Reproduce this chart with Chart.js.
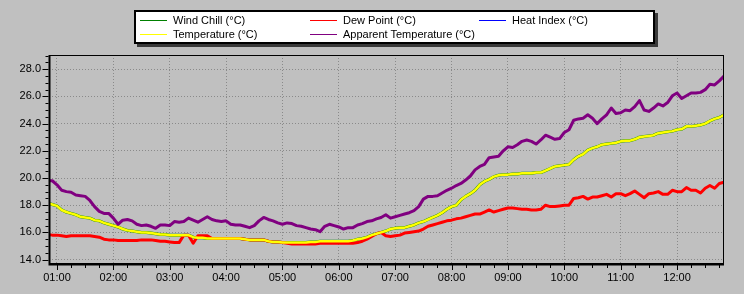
<!DOCTYPE html>
<html>
<head>
<meta charset="utf-8">
<script src="https://cdn.jsdelivr.net/npm/chart.js@4"></script>
<style>
  body { margin: 0; background: #c0c0c0; }
  #wrap { position: relative; width: 744px; height: 294px; }
  #legend {
    position: absolute; left: 134px; top: 10px; width: 517px; height: 30px;
    background: #fff; border: 2px solid #000; box-shadow: 3px 3px 0 #3a3a3a;
    font: 11px "Liberation Sans", Arial, sans-serif; color: #000;
  }
  .item { position: absolute; white-space: nowrap; line-height: 13px; }
  .swatch { position: absolute; height: 1px; width: 27px; }
</style>
</head>
<body>
<div id="wrap">
  <canvas id="myChart" width="744" height="294"></canvas>
  <div id="legend"></div>
</div>
<script>
// sample times (every 5 min)
const times = [
  '00:50','00:55','01:00','01:05','01:10','01:15','01:20','01:25','01:30','01:35','01:40','01:45',
  '01:50','01:55','02:00','02:05','02:10','02:15','02:20','02:25','02:30','02:35','02:40','02:45',
  '02:50','02:55','03:00','03:05','03:10','03:15','03:20','03:25','03:30','03:35','03:40','03:45',
  '03:50','03:55','04:00','04:05','04:10','04:15','04:20','04:25','04:30','04:35','04:40','04:45',
  '04:50','04:55','05:00','05:05','05:10','05:15','05:20','05:25','05:30','05:35','05:40','05:45',
  '05:50','05:55','06:00','06:05','06:10','06:15','06:20','06:25','06:30','06:35','06:40','06:45',
  '06:50','06:55','07:00','07:05','07:10','07:15','07:20','07:25','07:30','07:35','07:40','07:45',
  '07:50','07:55','08:00','08:05','08:10','08:15','08:20','08:25','08:30','08:35','08:40','08:45',
  '08:50','08:55','09:00','09:05','09:10','09:15','09:20','09:25','09:30','09:35','09:40','09:45',
  '09:50','09:55','10:00','10:05','10:10','10:15','10:20','10:25','10:30','10:35','10:40','10:45',
  '10:50','10:55','11:00','11:05','11:10','11:15','11:20','11:25','11:30','11:35','11:40','11:45',
  '11:50','11:55','12:00','12:05','12:10','12:15','12:20','12:25','12:30','12:35','12:40','12:45',
  '12:50'
];

const apparentTemp = [
  19.8,19.8,19.5,19.1,19.0,18.95,18.75,18.7,18.65,18.35,17.9,17.55,
  17.4,17.4,17.05,16.6,16.9,16.95,16.85,16.6,16.5,16.55,16.45,16.3,
  16.55,16.55,16.5,16.8,16.75,16.8,17.05,16.9,16.75,16.95,17.15,16.95,
  16.85,16.8,16.85,16.6,16.55,16.55,16.45,16.35,16.5,16.85,17.1,16.95,
  16.85,16.7,16.6,16.7,16.65,16.5,16.45,16.35,16.25,16.2,16.05,16.45,
  16.6,16.5,16.4,16.25,16.35,16.35,16.55,16.65,16.8,16.85,17.0,17.1,
  17.3,17.05,17.15,17.25,17.35,17.45,17.6,17.9,18.45,18.65,18.65,18.7,
  18.9,19.1,19.25,19.45,19.6,19.85,20.15,20.6,20.85,21.0,21.5,21.55,
  21.6,22.0,22.3,22.25,22.45,22.7,22.8,22.7,22.5,22.8,23.15,23.0,
  22.85,22.9,23.35,23.55,24.25,24.35,24.4,24.65,24.4,24.0,24.35,24.65,
  25.15,24.75,24.8,25.0,24.95,25.25,25.7,25.0,24.9,25.15,25.45,25.3,
  25.55,26.05,26.25,25.85,26.05,26.25,26.25,26.3,26.5,26.9,26.85,27.15,
  27.5
];

const temperature = [
  18.15,18.05,17.95,17.65,17.5,17.4,17.3,17.15,17.1,17.05,16.9,16.85,
  16.7,16.6,16.5,16.4,16.25,16.15,16.1,16.05,16.0,16.0,15.95,15.9,
  15.85,15.85,15.8,15.8,15.8,15.8,15.8,15.65,15.6,15.6,15.55,15.55,
  15.55,15.55,15.55,15.55,15.55,15.55,15.5,15.45,15.45,15.45,15.45,15.35,
  15.3,15.3,15.25,15.25,15.25,15.25,15.25,15.25,15.3,15.3,15.35,15.35,
  15.35,15.35,15.35,15.35,15.35,15.4,15.5,15.55,15.65,15.8,15.9,16.0,
  16.1,16.25,16.3,16.35,16.35,16.45,16.55,16.7,16.8,16.95,17.1,17.25,
  17.45,17.7,17.9,18.0,18.4,18.65,18.85,19.1,19.5,19.75,19.9,20.1,
  20.2,20.25,20.25,20.3,20.3,20.35,20.35,20.35,20.4,20.4,20.55,20.7,
  20.85,20.9,20.95,21.0,21.35,21.6,21.75,22.05,22.2,22.3,22.45,22.5,
  22.55,22.6,22.7,22.75,22.75,22.85,23.0,23.05,23.1,23.15,23.3,23.35,
  23.4,23.45,23.55,23.6,23.8,23.8,23.85,23.9,24.0,24.2,24.35,24.45,
  24.65
];

const dewPoint = [
  15.85,15.8,15.8,15.75,15.7,15.75,15.75,15.75,15.75,15.75,15.7,15.65,
  15.5,15.45,15.45,15.4,15.4,15.4,15.4,15.4,15.45,15.45,15.45,15.4,
  15.35,15.35,15.3,15.25,15.25,15.8,15.8,15.2,15.75,15.75,15.75,15.55,
  15.55,15.55,15.55,15.55,15.55,15.55,15.5,15.45,15.45,15.45,15.45,15.35,
  15.3,15.3,15.25,15.2,15.15,15.15,15.15,15.15,15.15,15.15,15.2,15.2,
  15.2,15.2,15.2,15.2,15.2,15.2,15.25,15.35,15.5,15.7,15.9,16.0,
  15.75,15.7,15.75,15.8,15.95,16.0,16.05,16.1,16.25,16.45,16.55,16.65,
  16.75,16.85,16.9,17.0,17.05,17.15,17.25,17.35,17.35,17.5,17.65,17.5,
  17.6,17.7,17.8,17.8,17.75,17.7,17.7,17.65,17.65,17.7,18.0,17.9,
  17.9,17.95,18.0,18.0,18.5,18.55,18.65,18.45,18.6,18.6,18.7,18.8,
  18.6,18.85,18.85,18.7,18.85,19.05,18.8,18.55,18.85,18.9,19.0,18.8,
  18.8,19.1,19.0,19.0,19.3,19.1,19.1,18.9,19.25,19.45,19.25,19.6,
  19.7
];

// wind chill sits right under the temperature line, heat index is not drawn
const windChill = temperature;
const heatIndex = [];

const yTickValues = [14, 16, 18, 20, 22, 24, 26, 28];
const xTickHours = [1, 2, 3, 4, 5, 6, 7, 8, 9, 10, 11, 12];

function toMin(s) {
  const p = s.split(':');
  return +p[0] * 60 + +p[1];
}
function pts(arr) {
  return arr.map((v, i) => ({ x: toMin(times[i]), y: v }));
}
function pad(n) { return (n < 10 ? '0' : '') + n; }

const FONT = { family: '"Liberation Sans", Arial, sans-serif', size: 11 };

// frame, axes and tick marks drawn on top
const frame = {
  id: 'frame',
  afterDatasetsDraw(chart) {
    const { ctx, chartArea: a, scales } = chart;
    ctx.save();
    ctx.strokeStyle = '#000';
    ctx.lineWidth = 1;
    ctx.strokeRect(a.left + 0.5, a.top + 0.5, a.right - a.left - 1, a.bottom - a.top);
    ctx.lineWidth = 2;
    ctx.beginPath();
    ctx.moveTo(a.left + 0.5, a.top);
    ctx.lineTo(a.left + 0.5, a.bottom + 1.5);
    ctx.lineTo(a.right, a.bottom + 1.5);
    ctx.stroke();
    ctx.lineWidth = 1;
    ctx.beginPath();
    const x = scales.x, y = scales.y;
    for (let m = 60; m <= x.max; m += 15) {
      const px = Math.round(x.getPixelForValue(m)) + 0.5;
      const len = m % 60 === 0 ? 5 : 3;
      ctx.moveTo(px, a.bottom + 2);
      ctx.lineTo(px, a.bottom + 2 + len);
    }
    for (let v = 14; v <= y.max; v += 0.5) {
      const py = Math.round(y.getPixelForValue(v)) + 0.5;
      const len = v % 2 === 0 ? 6 : 3;
      ctx.moveTo(a.left - 0.5, py);
      ctx.lineTo(a.left - 0.5 - len, py);
    }
    ctx.stroke();
    ctx.restore();
  }
};

const datasets = [
  { label: 'Wind Chill (°C)', data: pts(windChill), borderColor: '#008000', borderWidth: 3, order: 3 },
  { label: 'Dew Point (°C)', data: pts(dewPoint), borderColor: '#ff0000', borderWidth: 3, order: 2 },
  { label: 'Heat Index (°C)', data: pts(heatIndex), borderColor: '#0000ff', borderWidth: 3, order: 4 },
  { label: 'Temperature (°C)', data: pts(temperature), borderColor: '#ffff00', borderWidth: 2.5, order: 1 },
  { label: 'Apparent Temperature (°C)', data: pts(apparentTemp), borderColor: '#800080', borderWidth: 3, order: 0 }
];

const config = {
  type: 'line',
  data: { datasets: datasets },
  options: {
    responsive: false,
    animation: false,
    layout: { padding: { top: 55, right: 20, left: 0, bottom: 0 } },
    elements: {
      point: { radius: 0 },
      line: { tension: 0, fill: false, borderJoinStyle: 'round' }
    },
    plugins: { legend: { display: false }, tooltip: { enabled: false } },
    scales: {
      x: {
        type: 'linear',
        min: 51.5,
        max: 770,
        afterBuildTicks: s => { s.ticks = xTickHours.map(h => ({ value: h * 60 })); },
        afterFit: s => { s.height = 31; },
        grid: { color: '#8a8a8a', drawTicks: false },
        border: { display: false, dash: [1, 2] },
        ticks: {
          autoSkip: false, maxRotation: 0, padding: 8, color: '#000', font: FONT,
          callback: v => pad(Math.floor(v / 60)) + ':00'
        }
      },
      y: {
        min: 13.75,
        max: 29.05,
        afterBuildTicks: s => { s.ticks = yTickValues.map(v => ({ value: v })); },
        afterFit: s => { s.width = 49; },
        grid: { color: '#8a8a8a', drawTicks: false },
        border: { display: false, dash: [1, 2] },
        ticks: { padding: 8, color: '#000', font: FONT, callback: v => v.toFixed(1) }
      }
    }
  },
  plugins: [frame]
};

const myChart = new Chart(document.getElementById('myChart'), config);

// legend: 3 columns, built from the datasets
const colX = [4, 174, 343];
const legend = document.getElementById('legend');
datasets.forEach((d, i) => {
  const col = i % 3, row = Math.floor(i / 3);
  const sw = document.createElement('div');
  sw.className = 'swatch';
  sw.style.left = colX[col] + 'px';
  sw.style.top = (8 + row * 14) + 'px';
  sw.style.background = d.borderColor;
  legend.appendChild(sw);
  const t = document.createElement('div');
  t.className = 'item';
  t.style.left = (colX[col] + 33) + 'px';
  t.style.top = (2 + row * 14) + 'px';
  t.textContent = d.label;
  legend.appendChild(t);
});
</script>
</body>
</html>
